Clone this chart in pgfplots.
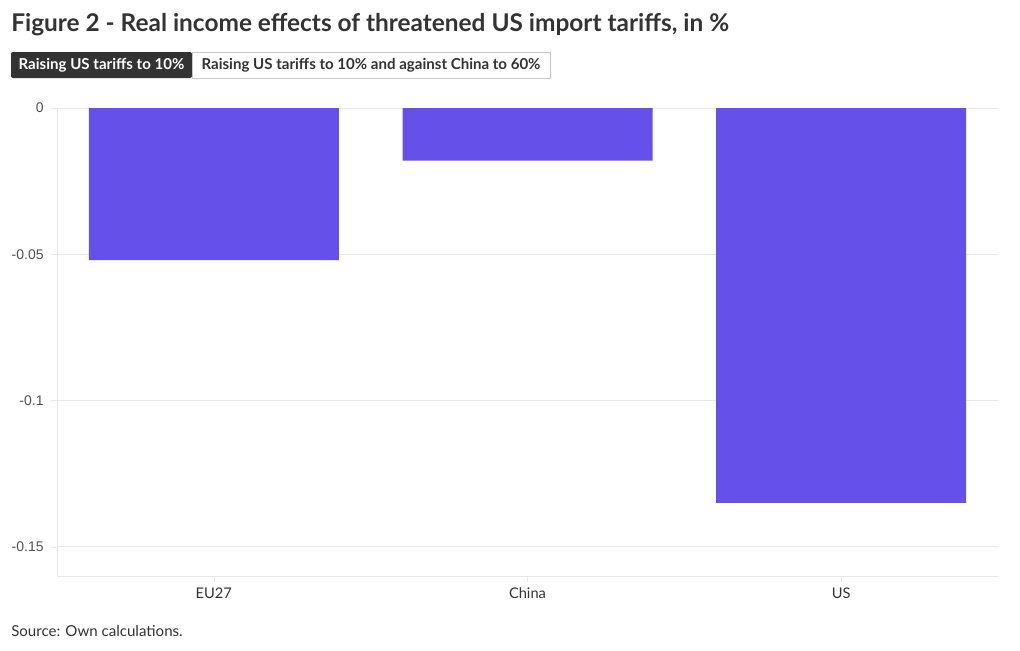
\documentclass[border=0pt]{standalone}
\usepackage{fontspec}
\setmainfont{Lato}
\newfontfamily\arialfont{Liberation Sans}
\usepackage{pgfplots}
\pgfplotsset{compat=1.18}
\definecolor{barcol}{RGB}{101,81,234}
\definecolor{txt}{RGB}{51,51,51}
\definecolor{gridc}{RGB}{232,232,232}
\def\px{0.75pt}
\begin{document}
\begin{tikzpicture}
\path[use as bounding box] (0,0) rectangle ({1020*\px},{-650*\px});
\node[anchor=base west, inner sep=0pt, text=txt, font=\fontsize{18.3}{20}\selectfont\bfseries] at ({11*\px},{-31*\px}) {Figure 2 - Real income effects of threatened US import tariffs, in \%};
\fill[txt, rounded corners=1.5pt] ({11*\px},{-52*\px}) rectangle ({192*\px},{-78*\px});
\draw[black!22, fill=white] ({192*\px},{-52*\px}) rectangle ({550*\px},{-78*\px});
\node[anchor=center, inner sep=0pt, text=white, font=\fontsize{11.3}{13}\selectfont\bfseries] at ({101.5*\px},{-65*\px}) {Raising US tariffs to 10\%};
\node[anchor=center, inner sep=0pt, text=txt, font=\fontsize{11.3}{13}\selectfont\bfseries] at ({371*\px},{-65*\px}) {Raising US tariffs to 10\% and against China to 60\%};
\node[anchor=base west, inner sep=0pt, text=txt, font=\fontsize{11.3}{13}\selectfont] at ({11*\px},{-636*\px}) {Source: Own calculations.};
\begin{axis}[
  at={({57*\px},{-108*\px})}, anchor=north west,
  scale only axis, width={941*\px}, height={468*\px},
  xmin=-0.5, xmax=2.5, ymin=-0.16, ymax=0,
  axis x line*=bottom, axis y line*=left,
  axis line style={draw=gridc, -},
  ytick={-0.15,-0.1,-0.05,0},
  yticklabels={-0.15,-0.1,-0.05,0},
  xtick={0,1,2}, xticklabels={EU27,China,US},
  ymajorgrids, grid style={draw=gridc, line width=0.6pt},
  tick align=outside, major tick length={6*\px},
  tick style={draw=gridc},
  yticklabel style={font=\arialfont\fontsize{10.5}{12}\selectfont, text=txt!85, xshift=-2pt},
  xticklabel style={font=\fontsize{11}{12}\selectfont, text=txt, yshift=-1pt},
  ybar, bar width={250*\px},
]
\addplot[fill=barcol, draw=none] coordinates {(0,-0.052) (1,-0.018) (2,-0.135)};
\end{axis}
\end{tikzpicture}
\end{document}
